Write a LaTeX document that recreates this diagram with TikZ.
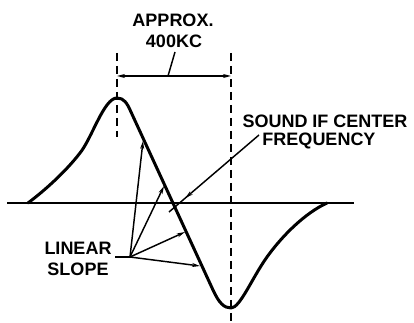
\documentclass[tikz,border=0pt]{standalone}
\usepackage{fontspec}
\setmainfont{Liberation Sans}
\usetikzlibrary{arrows.meta,decorations.markings}
\begin{document}
\begin{tikzpicture}[x=0.75pt,y=-0.75pt,
  lbl/.style={font=\fontsize{13.5}{16}\selectfont\bfseries, inner sep=0pt, anchor=base},
  curve/.style={line width=2.25pt, line join=round, line cap=round},
  thinln/.style={line width=1.1pt},
  dashln/.style={line width=1.1pt, dash pattern=on 6pt off 3.75pt},
  arr/.style={line width=1.1pt, -{Stealth[length=6pt,width=3pt]}},
]
\useasboundingbox (0,0) rectangle (414,323);
% axis
\coordinate (axL) at (7,203);
\coordinate (axR) at (354,203);
\draw[thinln] (axL) -- (axR);
% response curve
\coordinate (cstart) at (28,203);
\coordinate (lm) at (80,153);
\coordinate (peak) at (117,98);
\coordinate (l1) at (131,112);
\coordinate (l2) at (213,290);
\coordinate (trough) at (231,308);
\coordinate (rm) at (267,257);
\coordinate (cend) at (327,203);
\draw[curve] (cstart) .. controls (40,194) and (63,175) .. (lm)
  .. controls (92,138) and (104,98) .. (peak)
  .. controls (124,98) and (127,103) .. (l1) -- (l2)
  .. controls (219,303) and (224,308) .. (trough)
  .. controls (240,308) and (252,278) .. (rm)
  .. controls (282,236) and (305,213) .. (cend);
% dashed verticals
\coordinate (dlt) at (117,53);
\coordinate (dlb) at (117,137);
\coordinate (drt) at (231,53);
\coordinate (drb) at (231,323);
\draw[dashln] (dlt) -- (dlb);
\draw[dashln] (drt) -- (drb);
% dimension
\coordinate (dimL) at (117,76);
\coordinate (dimR) at (231,76);
\draw[thinln, {Stealth[length=6pt,width=3pt]}-{Stealth[length=6pt,width=3pt]}] (dimL) -- (dimR);
\node[lbl] (approx) at (173,27) {APPROX.};
\node[lbl] (kc) at (174,48) {400KC};
\coordinate (kcl) at (168,76);
\coordinate (kct) at (175,52);
\draw[thinln] (kcl) -- (kct);
% sound IF
\node[lbl] (sif) at (325,128) {SOUND IF CENTER};
\node[lbl] (freq) at (319,146) {FREQUENCY};
\coordinate (sifs) at (259,135);
\coordinate (sife) at (169,212);
\draw[thinln, decoration={markings, mark=at position 0.82 with {\arrow{Stealth[length=6pt,width=3pt]}}}, postaction=decorate] (sifs) -- (sife);
% linear slope
\node[lbl] (lin) at (78,255) {LINEAR};
\node[lbl] (slope) at (78,276) {SLOPE};
\coordinate (lsl) at (115,257);
\coordinate (ls) at (130,257);
\draw[thinln] (lsl) -- (ls);
\coordinate (t1) at (143,141);
\coordinate (t2) at (164,186);
\coordinate (t3) at (185,232);
\coordinate (t4) at (200,266);
\draw[arr] (ls) -- (t1);
\draw[arr] (ls) -- (t2);
\draw[arr] (ls) -- (t3);
\draw[arr] (ls) -- (t4);
\end{tikzpicture}
\end{document}
